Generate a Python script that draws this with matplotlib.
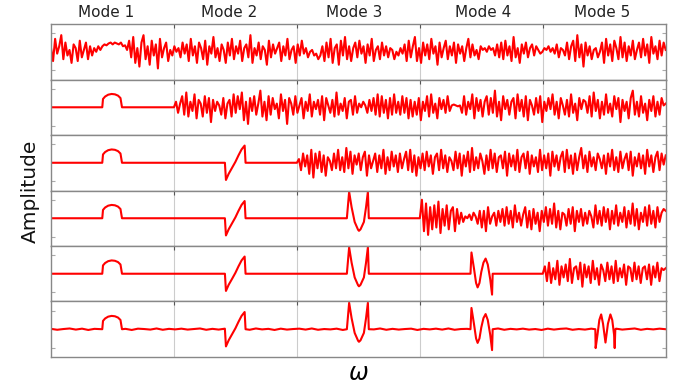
import numpy as np
import matplotlib
matplotlib.use("Agg")
import matplotlib.pyplot as plt

# ---------------- data ----------------
mode_titles = ["Mode 1", "Mode 2", "Mode 3", "Mode 4", "Mode 5"]
title_pos = [0.090, 0.289, 0.494, 0.703, 0.897]
band_edges = [0.2, 0.4, 0.6, 0.8]

# clean mode shapes (x in normalised frequency, amplitude)
mode1_x = [0.0834, 0.0846, 0.088, 0.093, 0.0986, 0.104, 0.109, 0.113, 0.1155]
mode1_y = [0.0, 0.45, 0.58, 0.68, 0.72, 0.70, 0.63, 0.50, 0.0]

mode2_x = [0.2829, 0.2846, 0.289, 0.295, 0.300, 0.305, 0.310, 0.3150, 0.3165]
mode2_y = [0.0, -0.93, -0.60, -0.25, 0.05, 0.40, 0.72, 0.93, 0.0]

mode3_x = [0.4813, 0.4850, 0.489, 0.494, 0.4995, 0.501, 0.5035, 0.509, 0.5125, 0.5155, 0.5170]
mode3_y = [0.0, 1.43, 0.60, -0.20, -0.62, -0.68, -0.60, -0.20, 0.60, 1.43, 0.0]

mode4_x = [0.6824, 0.6840, 0.688, 0.6915, 0.694, 0.697, 0.700, 0.7035, 0.707, 0.7105, 0.7145, 0.7175, 0.7185]
mode4_y = [0.0, 1.15, 0.30, -0.50, -0.74, -0.50, 0.10, 0.60, 0.82, 0.50, -0.30, -1.13, 0.0]

mode5_x = [0.8855, 0.8860, 0.889, 0.892, 0.895, 0.898, 0.902, 0.906, 0.910, 0.913, 0.916, 0.917, 0.918]
mode5_y = [0.0, -1.02, -0.30, 0.50, 0.80, 0.30, -0.72, 0.30, 0.80, 0.50, -0.30, -1.02, 0.0]

# noisy parts (approximate)
row1_noise = [
    0.2, -0.5, 0.7, -0.1, 0.3, 0.9, -0.4, 0.5, -0.2, 0.1,
    -0.6, 0.4, 0.2, -0.5, 0.6, -0.3, 0.1, 0.5, -0.4, 0.3,
    -0.2, 0.2, 0.0, 0.3, 0.1, 0.3, 0.4, 0.35, 0.45, 0.5,
    0.4, 0.5, 0.45, 0.4, 0.5, 0.3, 0.35, 0.1, 0.6, -0.3,
    0.8, -0.6, 0.2, -0.8, 0.5, 0.9, -0.4, 0.3, -0.7, 0.6,
    -0.2, 0.4, -0.9, 0.7, -0.3, 0.2, 0.5, -0.5, 0.1, -0.2,
    0.3, 0.0, 0.2, -0.3, 0.5, -0.1, 0.4, -0.5, 0.7, -0.2,
    0.3, -0.6, 0.5, 0.2, -0.4, 0.6, -0.7, 0.3, -0.1, 0.8,
    -0.3, 0.2, -0.5, 0.4, 0.1, -0.6, 0.5, -0.2, 0.7, -0.4,
    0.3, -0.1, 0.6, -0.5, 0.2, 0.4, -0.3, 0.9, -0.6, 0.2,
    -0.2, 0.5, -0.4, 0.3, 0.1, -0.7, 0.6, -0.3, 0.4, -0.1,
    0.2, 0.5, -0.5, 0.3, -0.2, 0.7, -0.4, 0.1, 0.3, -0.6,
    0.4, -0.2, 0.6, -0.1, 0.2, -0.3, 0.0, 0.1, -0.2, -0.1,
    -0.4, -0.2, 0.3, -0.5, 0.5, -0.3, 0.7, -0.6, 0.2, 0.4,
    -0.7, 0.6, -0.2, 0.8, -0.4, 0.3, -0.5, 0.2, 0.5, -0.3,
    0.6, -0.1, 0.3, -0.6, 0.4, -0.2, 0.7, -0.5, 0.1, 0.3,
    -0.4, 0.5, -0.2, 0.3, -0.3, 0.2, 0.1, -0.4, 0.0, -0.2,
    0.2, -0.1, 0.4, -0.5, 0.6, -0.3, 0.3, 0.8, -0.5, 0.2,
    -0.6, 0.5, -0.2, 0.4, -0.4, 0.7, -0.1, 0.3, -0.7, 0.5,
    -0.3, 0.2, 0.6, -0.4, 0.3, -0.2, 0.5, -0.6, 0.4, -0.1,
    0.3, -0.5, 0.2, 0.7, -0.3, 0.4, -0.2, 0.1, -0.4, 0.3,
    0.1, 0.2, 0.0, 0.3, 0.1, 0.2, -0.2, 0.4, -0.3, 0.5,
    -0.4, 0.6, -0.2, 0.3, -0.5, 0.8, -0.3, 0.2, -0.6, 0.4,
    -0.1, 0.5, -0.3, 0.2, 0.4, -0.2, 0.3, 0.1, -0.1, 0.0,
    0.2, 0.1, 0.3, 0.0, 0.2, -0.1, 0.4, -0.3, 0.2, 0.1,
    -0.2, 0.5, -0.4, 0.3, 0.6, -0.5, 0.9, -0.3, 0.4, -0.8,
    0.5, -0.2, 0.3, -0.4, 0.1, 0.2, -0.3, 0.0, 0.5, -0.6,
    0.7, -0.2, 0.4, -0.5, 0.6, 0.2, -0.4, 0.8, -0.3, 0.5,
    -0.5, 0.3, -0.2, 0.6, -0.4, 0.1, 0.5, -0.3, 0.7, -0.2,
    0.4, -0.6, 0.8, -0.1, 0.3, -0.4, 0.6, -0.2, 0.5, 0.1,
]

row2_noise = [
    0.0, 0.3, -0.3, 0.2, 0.6, -0.4, 0.8, -0.5, 0.3, -0.2,
    0.7, -0.6, 0.4, 0.2, -0.5, 0.6, -0.3, 0.5, -0.8, 0.4,
    -0.2, 0.3, 0.1, -0.4, 0.5, -0.6, 0.2, 0.4, -0.5, 0.7,
    -0.3, 0.6, -0.1, 0.8, -0.7, 0.3, -0.9, 0.5, -0.2, 0.6,
    -0.4, 0.2, 0.9, -0.5, 0.3, -0.7, 0.6, -0.4, 0.5, -0.1,
    0.2, -0.6, 0.7, -0.2, 0.4, -0.9, 0.5, 0.2, -0.4, 0.6,
    -0.3, 0.1, 0.5, -0.6, 0.3, -0.2, 0.7, -0.5, 0.3, -0.1,
    0.4, -0.4, 0.6, -0.7, 0.5, 0.1, -0.3, 0.4, -0.5, 0.8,
    -0.4, 0.2, -0.2, 0.5, -0.6, 0.3, 0.4, -0.4, 0.6, -0.3,
    0.2, 0.0, 0.3, 0.1, -0.3, 0.4, -0.2, 0.5, -0.4, 0.7,
    -0.5, 0.6, -0.3, 0.4, -0.6, 0.5, -0.4, 0.7, -0.3, 0.3,
    -0.4, 0.6, -0.3, 0.5, -0.6, 0.4, -0.5, 0.3, -0.4, 0.5,
    -0.7, 0.3, -0.2, 0.6, -0.5, 0.7, -0.3, 0.2, -0.6, 0.5,
    -0.1, 0.4, -0.3, 0.6, -0.2, 0.1, 0.15, 0.1, 0.05, 0.1,
    -0.3, 0.6, -0.4, 0.3, -0.1, 0.7, -0.6, 0.5, -0.2, 0.4,
    -0.5, 0.3, 0.6, -0.4, 0.5, -0.3, 0.9, -0.5, 0.3, -0.7,
    0.6, -0.1, 0.4, -0.4, 0.3, 0.5, -0.6, 0.7, -0.2, 0.4,
    -0.5, 0.6, -0.7, 0.4, 0.1, -0.4, 0.5, -0.3, 0.6, -0.8,
    0.3, -0.2, 0.5, -0.1, 0.7, -0.4, 0.3, -0.6, 0.5, 0.1,
    -0.4, 0.4, -0.5, 0.7, -0.3, 0.2, -0.7, 0.5, -0.1, 0.4,
    0.3, -0.3, 0.6, -0.5, 0.8, -0.2, 0.4, -0.6, 0.3, -0.4,
    0.7, -0.3, 0.2, -0.5, 0.6, -0.1, 0.5, -0.8, 0.4, -0.2,
    0.3, -0.6, 0.5, 0.9, -0.4, 0.3, -0.5, 0.6, -0.3, 0.2,
    -0.7, 0.4, -0.2, 0.6, -0.5, 0.3, -0.4, 0.5, 0.1, 0.2,
]

row3_noise = [
    0.0, 0.2, -0.4, 0.5, -0.2, 0.4, -0.6, 0.7, -0.8, 0.5,
    -0.3, 0.6, -0.5, 0.4, -0.7, 0.3, 0.1, -0.4, 0.5, -0.3,
    0.7, -0.4, 0.3, -0.5, 0.8, -0.3, 0.6, -0.6, 0.4, -0.1,
    0.5, -0.4, 0.3, 0.6, -0.7, 0.4, -0.3, 0.1, 0.5, -0.5,
    0.4, -0.3, 0.7, -0.6, 0.3, -0.4, 0.6, -0.2, 0.4, -0.5,
    0.5, -0.3, 0.2, 0.6, -0.4, 0.7, -0.5, 0.4, -0.7, 0.3,
    -0.3, 0.5, -0.4, 0.6, -0.2, 0.4, -0.6, 0.3, 0.5, -0.4,
    0.7, -0.3, 0.4, -0.5, 0.3, 0.1, -0.4, 0.6, -0.3, 0.5,
    -0.7, 0.4, -0.2, 0.6, -0.5, 0.8, -0.4, 0.3, -0.3, 0.5,
    0.1, -0.6, 0.4, -0.4, 0.7, -0.3, 0.5, -0.5, 0.3, 0.4,
    -0.3, 0.6, -0.7, 0.5, -0.2, 0.4, -0.4, 0.7, -0.5, 0.3,
    0.5, -0.3, 0.6, -0.6, 0.4, -0.2, 0.3, -0.5, 0.7, -0.4,
    0.4, -0.3, 0.5, -0.7, 0.6, -0.2, 0.4, -0.4, 0.3, 0.6,
    -0.5, 0.7, -0.3, 0.4, -0.6, 0.5, -0.4, 0.3, 0.8, -0.3,
    0.4, -0.5, 0.6, -0.2, 0.3, -0.4, 0.5, 0.2, -0.3, 0.4,
    -0.6, 0.5, -0.2, 0.7, -0.4, 0.3, -0.5, 0.6, -0.3, 0.2,
    0.5, -0.4, 0.6, -0.7, 0.3, -0.2, 0.5, -0.3, 0.4, -0.6,
    0.7, -0.2, 0.4, -0.5, 0.3, 0.6, -0.4, 0.5, -0.1, 0.4,
]

row4_noise = [
    0.0, 1.0, -0.7, 0.8, -0.9, 0.6, -0.6, 0.7, -0.5, 0.9,
    -0.8, 0.5, -0.4, 0.7, -0.6, 0.4, 0.6, -0.7, 0.5, -0.3,
    0.3, -0.2, 0.1, 0.0, 0.2, -0.1, 0.3, 0.1, -0.3, 0.4,
    -0.5, 0.4, -0.7, 0.6, -0.3, 0.1, 0.3, -0.4, 0.4, -0.2,
    0.5, -0.4, 0.6, -0.3, 0.4, -0.5, 0.7, -0.2, 0.3, -0.4,
    0.2, 0.6, -0.5, 0.4, -0.6, 0.5, -0.3, 0.3, -0.7, 0.4,
    -0.2, 0.6, -0.4, 0.5, -0.3, 0.8, -0.5, 0.4, -0.6, 0.3,
    0.2, -0.4, 0.5, -0.3, 0.6, -0.7, 0.4, -0.2, 0.5, -0.4,
    0.3, -0.3, 0.4, 0.1, -0.5, 0.7, -0.3, 0.4, -0.4, 0.6,
    -0.2, 0.5, -0.6, 0.4, -0.3, 0.7, -0.4, 0.3, -0.2, 0.6,
    -0.5, 0.4, -0.3, 0.8, -0.4, 0.5, -0.6, 0.3, -0.2, 0.6,
    -0.4, 0.7, -0.3, 0.4, -0.5, 0.6, -0.2, 0.3, 0.5, 0.4,
]

row5_noise = [
    0.0, 0.4, -0.4, 0.6, -0.5, 0.3, -0.3, 0.7, -0.6, 0.4,
    -0.2, 0.5, -0.4, 0.8, -0.5, 0.3, 0.4, -0.3, 0.6, -0.7,
    0.5, -0.2, 0.4, -0.5, 0.7, -0.3, 0.3, -0.6, 0.5, 0.2,
    -0.4, 0.6, -0.3, 0.4, -0.5, 0.7, -0.4, 0.3, -0.2, 0.5,
    -0.6, 0.4, 0.3, -0.4, 0.6, -0.3, 0.4, -0.5, 0.3, 0.4,
    -0.3, 0.5, -0.6, 0.4, -0.2, 0.6, -0.4, 0.3, 0.2, 0.3,
]

row6_residual = [
    0.02, -0.03, 0.01, 0.04, -0.02, 0.03, -0.04, 0.02, 0.00, -0.03,
    0.03, -0.01, 0.02, -0.04, 0.03, 0.01, -0.02, 0.04, -0.03, 0.02,
    -0.01, 0.03, -0.02, 0.01, 0.04, -0.03, 0.02, -0.02, 0.03, -0.04,
    0.01, 0.02, -0.03, 0.04, -0.01, 0.02, -0.04, 0.03, -0.02, 0.01,
    0.03, -0.02, 0.04, -0.03, 0.01, -0.01, 0.03, -0.04, 0.02, 0.00,
    -0.02, 0.03, -0.01, 0.04, -0.03, 0.02, -0.02, 0.01, 0.03, -0.04,
    0.02, -0.01, 0.03, -0.02, 0.04, -0.03, 0.01, 0.02, -0.04, 0.03,
    -0.02, 0.01, 0.04, -0.03, 0.02, -0.01, 0.03, -0.02, 0.01, -0.04,
    0.03, -0.02, 0.02, 0.04, -0.03, 0.01, -0.02, 0.03, -0.01, 0.02,
    -0.04, 0.03, -0.02, 0.01, 0.04, -0.03, 0.02, -0.01, 0.03, 0.00,
]

modes_x = [mode1_x, mode2_x, mode3_x, mode4_x, mode5_x]
modes_y = [mode1_y, mode2_y, mode3_y, mode4_y, mode5_y]
noise_rows = [row1_noise, row2_noise, row3_noise, row4_noise, row5_noise]

# ---------------- figure ----------------
RED = "#ff0000"
fig, axes = plt.subplots(6, 1, figsize=(6.8, 3.88), dpi=100, sharex=True)
fig.subplots_adjust(left=0.075, right=0.979, top=0.938, bottom=0.080, hspace=0)


def style(ax):
    ax.set_xlim(0, 1)
    ax.set_ylim(-1.5, 1.5)
    ax.set_xticks(band_edges)
    ax.set_yticks([-1, 1])
    ax.tick_params(axis="x", direction="in", top=True, bottom=False, length=3,
                   color="#555555", labelbottom=False)
    ax.tick_params(axis="y", direction="in", left=True, right=True, length=3,
                   color="#aaaaaa", labelleft=False)
    ax.grid(axis="x", color="#cccccc", linewidth=0.8)
    ax.set_axisbelow(True)
    for s in ax.spines.values():
        s.set_color("#888888")
        s.set_linewidth(1.0)


for r, ax in enumerate(axes):
    style(ax)
    if r < 5:
        xs, ys = [], []
        if r > 0:
            xs.append(0.0)
            ys.append(0.0)
            for k in range(r):
                xs.extend(modes_x[k])
                ys.extend(modes_y[k])
        start = band_edges[r - 1] if r > 0 else 0.0
        nz = noise_rows[r]
        nx = np.linspace(start, 1.0, len(nz))
        xs.extend(nx)
        ys.extend(nz)
        ax.plot(xs, ys, color=RED, linewidth=1.5)
    else:
        rx = np.linspace(0, 1, len(row6_residual))
        ry = np.array(row6_residual)
        keep = np.ones(len(rx), dtype=bool)
        for mx in modes_x:
            keep &= ~((rx >= mx[0]) & (rx <= mx[-1]))
        xs = list(rx[keep])
        ys = list(ry[keep])
        for mx, my in zip(modes_x, modes_y):
            xs.extend(mx)
            ys.extend(my)
        order = np.argsort(xs, kind="stable")
        ax.plot(np.array(xs)[order], np.array(ys)[order], color=RED, linewidth=1.5)

top = axes[0]
for t, px in zip(mode_titles, title_pos):
    top.text(px, 1.07, t, transform=top.transAxes, ha="center",
             va="bottom", fontsize=11, color="#222222")

fig.text(0.044, 0.506, "Amplitude", rotation=90, ha="center", va="center",
         fontsize=14.5, color="#111111")
fig.text(0.527, 0.038, r"$\omega$", ha="center", va="center", fontsize=17)

fig.savefig("out.png", dpi=100)
